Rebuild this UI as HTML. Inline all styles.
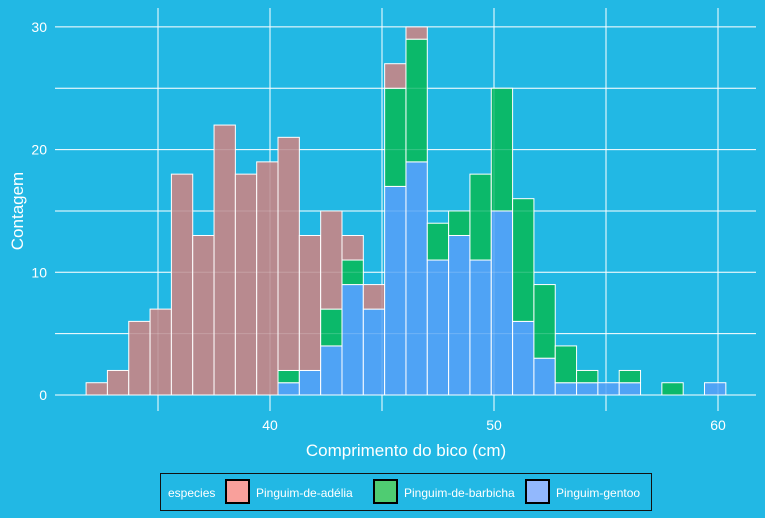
<!DOCTYPE html>
<html><head><meta charset="utf-8"><style>
body{margin:0;background:#22b8e4}
svg{display:block;font-family:"Liberation Sans",Arial,sans-serif}
</style></head><body>
<svg id="chart" width="765" height="518" viewBox="0 0 765 518" xmlns="http://www.w3.org/2000/svg">
<rect x="0" y="0" width="765" height="518" fill="#22b8e4"/>
<g id="grid"></g>
<g id="bars"></g>
<g id="gridover"></g>
<g id="axes"></g>
<text x="406" y="456" font-size="17" fill="#fff" text-anchor="middle">Comprimento do bico (cm)</text>
<text transform="translate(23,211) rotate(-90)" font-size="17" fill="#fff" text-anchor="middle">Contagem</text>
<g>
<rect x="160.5" y="473.5" width="491" height="37" fill="none" stroke="#111" stroke-width="1"/>
<text x="168" y="497" font-size="12" fill="#fff">especies</text>
<rect x="226" y="480" width="23" height="23" fill="#f9a09b" stroke="#000" stroke-width="2"/>
<text x="256" y="497" font-size="12" fill="#fff">Pinguim-de-adélia</text>
<rect x="374" y="480" width="23" height="23" fill="#4fcc72" stroke="#000" stroke-width="2"/>
<text x="404" y="497" font-size="12" fill="#fff">Pinguim-de-barbicha</text>
<rect x="526" y="480" width="23" height="23" fill="#92b8fd" stroke="#000" stroke-width="2"/>
<text x="556" y="497" font-size="12" fill="#fff">Pinguim-gentoo</text>
</g>
</svg>
<script>
const binStart = 31.79;
const binWidth = 0.952;
const gentoo   = [0,0,0,0,0,0,0,0,0,1,2,4,9,7,17,19,11,13,11,15,6,3,1,1,1,1,0,0,0,1];
const barbicha = [0,0,0,0,0,0,0,0,0,1,0,3,2,0,8,10,3,2,7,10,10,6,3,1,0,1,0,1,0,0];
const adelia   = [1,2,6,7,18,13,22,18,19,19,11,8,2,2,2,1,0,0,0,0,0,0,0,0,0,0,0,0,0,0];
const xTicks = [40,50,60];
const xMinor = [35,45,55];
const yTicks = [0,10,20,30];
const yMinor = [5,15,25];
const NS='http://www.w3.org/2000/svg';
const X = v => 270 + (v-40)*22.4;
const Y = v => 395 - v*12.27;
function mk(tag, attrs, parent){const e=document.createElementNS(NS,tag);for(const k in attrs)e.setAttribute(k,attrs[k]);parent.appendChild(e);return e;}
const grid=document.getElementById('grid'), over=document.getElementById('gridover'), bars=document.getElementById('bars'), axes=document.getElementById('axes');
function gridLines(g, op){
  yTicks.concat(yMinor).forEach(v=>{const l=mk('line',{x1:55,x2:756,y1:Y(v),y2:Y(v),stroke:'#fff','stroke-width':1,opacity:op},g);
    
    });
  xTicks.concat(xMinor).forEach(v=>{const l=mk('line',{x1:X(v),x2:X(v),y1:8,y2:411,stroke:'#fff','stroke-width':1,opacity:op},g);
    
    });
}
gridLines(grid,1);
const series=[['gentoo',gentoo,'#4fa3f5'],['barbicha',barbicha,'#0bb96a'],['adelia',adelia,'#b88a8f']];
for(let i=0;i<gentoo.length;i++){
  let base=0;
  const x0=X(binStart+i*binWidth), x1=X(binStart+(i+1)*binWidth);
  series.forEach(([name,arr,col])=>{
    const v=arr[i]; if(!v) return;
    const r=mk('rect',{x:x0,y:Y(base+v),width:x1-x0,height:Y(base)-Y(base+v),fill:col,stroke:'#fff','stroke-width':1},bars);
    
    
    base+=v;
  });
}
gridLines(over,0.18);
yTicks.forEach(v=>{const t=mk('text',{x:47,y:Y(v)+5,'font-size':14,fill:'#fff','text-anchor':'end'},axes);t.textContent=v;
  
  });
xTicks.forEach(v=>{const t=mk('text',{x:X(v),y:430,'font-size':14,fill:'#fff','text-anchor':'middle'},axes);t.textContent=v;
  
  });
</script>
</body></html>
